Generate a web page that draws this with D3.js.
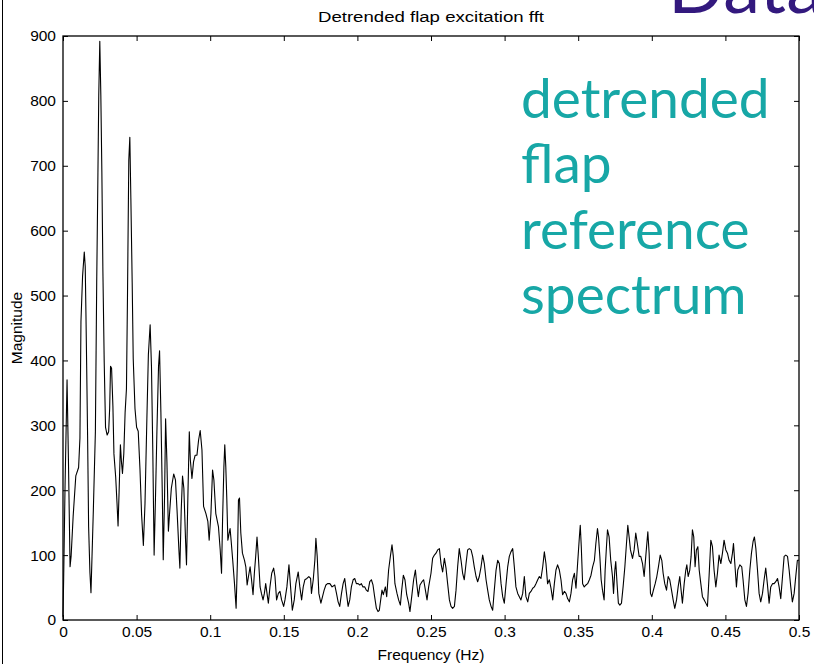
<!DOCTYPE html>
<html><head><meta charset="utf-8">
<script src="https://cdn.jsdelivr.net/npm/d3@7/dist/d3.min.js"></script>
<style>html,body{margin:0;padding:0;background:#fff;}svg{display:block;}</style>
</head><body>
<svg id="chart" width="814" height="664"></svg>
<script>
// ---------- data ----------
const title = "Detrended flap excitation fft";
const xLabel = "Frequency (Hz)";
const yLabel = "Magnitude";
const xTicks = [0,0.05,0.1,0.15,0.2,0.25,0.3,0.35,0.4,0.45,0.5];
const xTickLabels = ["0","0.05","0.1","0.15","0.2","0.25","0.3","0.35","0.4","0.45","0.5"];
const yTicks = [0,100,200,300,400,500,600,700,800,900];
const yTickLabels = ["0","100","200","300","400","500","600","700","800","900"];
const sideText = ["detrended","flap","reference","spectrum"];
const cornerText = "Data";

const freq = [
0,0.00046,0.00138,0.00275,0.00367,0.0048,0.0055,0.0069,0.0087,0.0106,0.0115,0.0122,0.0133,0.01445,0.0151,0.0156,0.0161,0.0167,0.0174,0.0183,0.019,0.0197,0.0206,0.022,0.0229,0.0236,0.0243,0.025,0.0257,0.0264,0.0271,0.028,0.0289,0.03,0.031,0.0317,0.0323,0.033,0.0339,0.0346,0.0358,0.0367,0.0374,0.0381,0.039,0.0397,0.0404,0.0413,0.0422,0.0431,0.0438,0.0447,0.0454,0.0461,0.047,0.0477,0.0489,0.05,0.0511,0.0523,0.0534,0.0546,0.0557,0.0569,0.058,0.0592,0.0601,0.061,0.0619,0.0628,0.0638,0.0649,0.0656,0.0665,0.0674,0.0681,0.069,0.0697,0.0706,0.0716,0.0725,0.0736,0.0752,0.0764,0.0775,0.0787,0.0794,0.0803,0.0812,0.0821,0.0833,0.0839,0.0849,
0.0858,0.0865,0.0876,0.0887,0.0898,0.091,0.0921,0.0932,0.0944,0.0955,0.0971,0.0984,0.0993,0.1005,0.1016,0.1025,0.1038,0.1056,0.1068,0.1077,0.1084,0.1093,0.1099,0.1106,0.1113,0.112,0.1129,0.1135,0.1142,0.1153,0.1165,0.1176,0.1185,0.1192,0.1199,0.1208,0.1219,0.1233,0.1242,0.1251,0.126,0.1271,0.128,0.1291,0.13,0.1309,0.1318,0.1327,0.1339,0.1348,0.1359,0.1368,0.1377,0.1386,0.1395,0.1406,0.1418,0.1431,0.144,0.1451,0.1463,0.1474,0.1485,0.1499,0.1508,0.1521,0.1535,0.1546,0.1558,0.1571,0.1582,0.1598,0.1609,0.1621,0.1632,0.1643,0.1657,0.167,0.1682,0.1688,0.17,0.1711,0.1718,0.1727,0.1738,0.1752,0.1763,0.1774,0.1786,0.1797,0.1813,0.1828,0.1846,0.1858,0.1869,0.188,0.1892,0.1903,0.1914,0.1926,0.1937,0.1948,0.1959,0.1971,0.1982,0.1993,0.2005,0.2016,0.2027,0.2038,0.205,0.2061,0.2072,0.2084,0.2095,0.2106,0.2117,0.2129,0.214,
0.2149,0.2167,0.2176,0.219,0.2199,0.2212,0.2224,0.2235,0.2244,0.2255,0.2269,0.228,0.2292,0.2301,0.2312,0.2323,0.2335,0.2348,0.2357,0.2369,0.2382,0.2394,0.2403,0.2414,0.2425,0.2439,0.245,0.2462,0.2473,0.2484,0.25,0.2511,0.2523,0.2534,0.2545,0.2557,0.2568,0.2579,0.2591,0.2602,0.2613,0.2625,0.2636,0.2647,0.2659,0.267,0.2681,0.2692,0.2704,0.2715,0.2726,0.2738,0.2749,0.276,0.2772,0.2783,0.2794,0.2806,0.2817,0.2828,0.284,0.2851,0.2862,0.2874,0.2885,0.2896,0.2908,0.2919,0.293,0.2942,0.2953,0.2964,0.2976,0.2987,0.2998,0.301,0.3021,0.3032,0.3043,0.3055,0.3066,0.3077,0.3089,0.31,0.3111,0.3123,0.3134,0.3145,0.3157,0.3168,0.3179,0.3191,0.3202,0.3213,0.3225,0.3236,0.3247,0.3259,0.327,0.3281,0.3292,0.3304,0.3315,0.3327,0.3338,0.3349,0.336,0.3372,0.3383,0.3394,0.3406,0.3417,0.3428,0.344,0.3451,0.3462,0.3474,0.3485,0.3496,0.3508,0.3514,0.3521,0.353,0.3541,0.3553,0.3564,0.3576,0.3587,0.3598,0.361,
0.362,0.3631,0.3638,0.3647,0.3656,0.3665,0.3676,0.3683,0.3692,0.3699,0.371,0.3721,0.3733,0.374,0.3749,0.3755,0.3764,0.3773,0.3783,0.3794,0.3805,0.3817,0.3828,0.3837,0.3846,0.3855,0.3869,0.388,0.3891,0.3903,0.3914,0.3925,0.3937,0.3948,0.3959,0.3973,0.3982,0.3991,0.4,0.4011,0.4023,0.4034,0.4045,0.4057,0.4068,0.4077,0.4088,0.41,0.4111,0.4122,0.4134,0.4145,0.4156,0.4168,0.4179,0.419,0.4199,0.4208,0.422,0.4231,0.4238,0.4247,0.4258,0.4267,0.4276,0.4285,0.4294,0.4303,0.4313,0.4322,0.4333,0.4344,0.4356,0.4367,0.4378,0.4389,0.4401,0.4412,0.4423,0.4435,0.4446,0.4457,0.4469,0.448,0.4491,0.4503,0.4514,0.4525,0.4537,0.4548,0.4555,0.4564,0.4575,0.4584,0.4598,0.4611,0.462,0.4632,0.4643,0.4654,0.4666,0.4677,0.4688,0.4697,0.4707,0.4718,0.4729,0.474,0.4752,0.4763,0.4774,0.4785,0.4797,0.4808,0.482,0.4831,0.4842,0.4854,0.4865,0.4876,0.4888,0.4899,0.491,0.4922,0.4933,0.4944,0.4955,0.4967,0.4978,0.4989,0.5
];
const magnitude = [
5,65,205,370,250,82,98,160,222,235,280,460,530,567,545,470,388,285,144,73,42,97,168,290,520,662,810,892,809,690,538,397,297,285,290,326,391,388,330,256,220,180,145,197,270,244,226,256,320,356,497,709,744,650,520,403,326,297,291,232,162,115,179,302,409,455,391,262,100,185,291,391,415,320,203,93,191,310,244,137,168,203,225,216,168,110,80,168,222,203,120,85,197,
290,247,218,244,254,254,277,292,262,175,164,152,123,164,231,216,164,144,108,72,154,236,270,236,185,123,134,141,123,92,56,18,92,185,188,134,103,92,82,54,67,82,64,39,72,98,128,98,51,41,31,41,56,41,26,51,72,80,67,31,41,44,31,21,31,51,85,51,15,31,56,74,51,31,51,62,64,67,64,41,62,92,126,98,41,26,36,46,54,56,56,51,54,41,28,21,41,56,64,41,21,31,51,62,64,56,56,54,56,51,51,46,44,59,62,54,36,18,13,
15,46,39,51,36,77,98,116,98,56,41,31,23,46,69,62,39,26,13,36,62,77,56,36,54,59,62,46,31,51,72,95,100,103,108,110,87,74,95,80,56,31,21,18,21,46,82,110,92,72,62,87,108,110,108,98,82,67,59,67,82,100,87,62,46,31,21,15,46,77,92,87,56,36,26,56,82,98,105,110,82,51,41,36,31,41,67,36,28,41,44,49,51,56,62,67,64,82,105,87,56,62,49,31,56,77,85,77,62,39,44,41,33,28,41,62,72,49,87,128,146,113,56,51,54,56,62,69,82,92,
118,141,128,98,62,46,31,77,113,139,128,92,67,41,77,90,56,26,23,26,51,82,118,146,128,108,95,108,134,116,98,98,87,67,98,136,103,41,36,46,56,67,82,100,92,72,56,46,67,62,46,31,18,31,51,67,46,26,56,77,85,67,77,98,139,128,82,108,113,77,56,36,31,26,21,67,123,113,77,51,72,100,87,103,123,108,103,92,87,103,118,87,51,77,85,82,62,31,21,41,77,103,121,128,110,77,41,28,41,62,80,56,26,51,56,56,59,64,51,33,67,98,100,98,77,51,28,41,67,92,92
];

// ---------- layout ----------
const svg = d3.select("#chart");
const W = 814, H = 664;
const plot = {left: 63, right: 799, top: 36, bottom: 620};
const x = d3.scaleLinear().domain([0, 0.5]).range([plot.left, plot.right]);
const y = d3.scaleLinear().domain([0, 900]).range([plot.bottom, plot.top]);
const axisFont = "'Liberation Sans', Arial, Helvetica, sans-serif";

// slide left edge
svg.append("line").attr("x1", 2.5).attr("x2", 2.5).attr("y1", 0).attr("y2", H)
  .attr("stroke", "#000").attr("stroke-width", 1);

// corner slide title (cut by the top edge, as in the reference)
svg.append("text").attr("x", 668).attr("y", 13)
  .attr("font-family", "Lato, 'Open Sans', sans-serif").attr("font-size", 74)
  .attr("fill", "#33197e").text(cornerText);

// axes
const tickLen = 5;
function styleAxis(g) {
  g.attr("font-family", axisFont).attr("font-size", 15.5);
  g.selectAll(".tick line").attr("stroke", "#000");
  g.selectAll(".tick text").attr("fill", "#000");
  g.select(".domain").remove();
}
svg.append("g").attr("transform", `translate(0,${plot.bottom})`)
  .call(d3.axisBottom(x).tickValues(xTicks).tickFormat((d,i)=>xTickLabels[i])
    .tickSizeInner(-tickLen).tickSizeOuter(0).tickPadding(6))
  .call(styleAxis);
svg.append("g").attr("transform", `translate(0,${plot.top})`)
  .call(d3.axisTop(x).tickValues(xTicks).tickFormat("")
    .tickSizeInner(-tickLen).tickSizeOuter(0))
  .call(styleAxis);
svg.append("g").attr("transform", `translate(${plot.left},0)`)
  .call(d3.axisLeft(y).tickValues(yTicks).tickFormat((d,i)=>yTickLabels[i])
    .tickSizeInner(-tickLen).tickSizeOuter(0).tickPadding(7))
  .call(styleAxis);
svg.append("g").attr("transform", `translate(${plot.right},0)`)
  .call(d3.axisRight(y).tickValues(yTicks).tickFormat("")
    .tickSizeInner(-tickLen).tickSizeOuter(0))
  .call(styleAxis);

// frame
svg.append("rect").attr("x", plot.left).attr("y", plot.top)
  .attr("width", plot.right - plot.left).attr("height", plot.bottom - plot.top)
  .attr("fill", "none").attr("stroke", "#000").attr("stroke-width", 1.3);

// spectrum line
const pts = freq.map((f, i) => [f, magnitude[i]]);
svg.append("path").datum(pts)
  .attr("fill", "none").attr("stroke", "#000").attr("stroke-width", 1.1)
  .attr("stroke-linejoin", "round")
  .attr("d", d3.line().x(d => x(d[0])).y(d => y(d[1])));

// labels
svg.append("text").attr("x", 431).attr("y", 22)
  .attr("text-anchor", "middle").attr("font-family", axisFont).attr("font-size", 14)
  .attr("textLength", 226).attr("lengthAdjust", "spacingAndGlyphs")
  .attr("fill", "#000").text(title);
svg.append("text").attr("x", (plot.left + plot.right) / 2).attr("y", 660)
  .attr("text-anchor", "middle").attr("font-family", axisFont).attr("font-size", 15.5)
  .attr("fill", "#000").text(xLabel);
svg.append("text").attr("transform", `translate(22,${(plot.top + plot.bottom) / 2}) rotate(-90)`)
  .attr("text-anchor", "middle").attr("font-family", axisFont).attr("font-size", 15.5)
  .attr("fill", "#000").text(yLabel);

// teal annotation
const baselines = [118, 183, 249, 314];
svg.append("g").selectAll("text").data(sideText).join("text")
  .attr("x", 521).attr("y", (d, i) => baselines[i])
  .attr("font-family", "Lato, 'Open Sans', sans-serif").attr("font-size", 55)
  .attr("fill", "#17a7a6").text(d => d);
</script>
</body></html>
